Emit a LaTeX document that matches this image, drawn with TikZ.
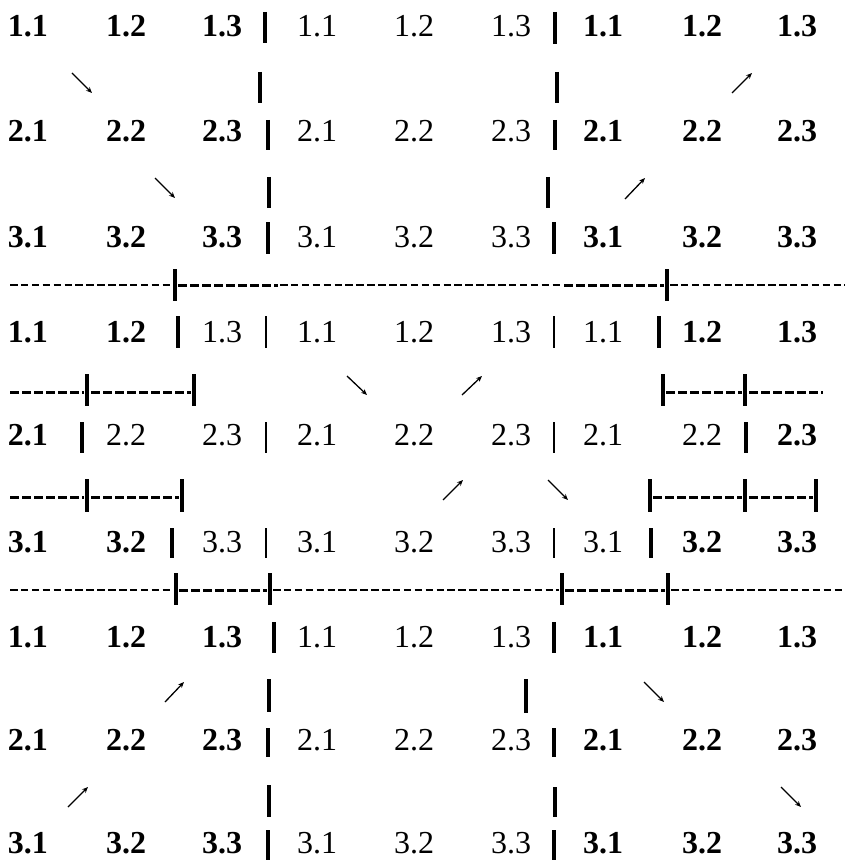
\documentclass[tikz,border=0pt]{standalone}
\usepackage{fontspec}
\setmainfont{Liberation Serif}
\usetikzlibrary{arrows.meta}
\begin{document}
\begin{tikzpicture}[x=1pt,y=-1pt,
  num/.style={anchor=base,inner sep=0pt,font=\fontsize{32}{32}\selectfont},
  bnum/.style={anchor=base,inner sep=0pt,font=\fontsize{32}{32}\selectfont\bfseries},
  bbar/.style={line width=4pt},
  rbar/.style={line width=2.4pt},
  thindash/.style={line width=1.2pt,dash pattern=on 7.5pt off 3.4pt},
  bolddash/.style={line width=3pt,dash pattern=on 9pt off 3pt},
  arr/.style={line width=1.3pt,-{Stealth[length=6pt,width=5pt]}}]
\useasboundingbox (0,0) rectangle (845,861);
% ---- A and C blocks
\foreach \y/\r in {37/1,142/2,247/3,647/1,750/2,853/3}{
  \foreach \x/\c in {28/1,126/2,222/3,603/1,702/2,797/3}
    \node[bnum] (n-\y-\x) at (\x,\y) {\r.\c};
  \foreach \x/\c in {317/1,414/2,511/3}
    \node[num] (n-\y-\x) at (\x,\y) {\r.\c};
}
% ---- B block
\foreach \y/\r in {342/1,552/3}{
  \foreach \x/\c in {28/1,126/2,702/2,797/3}
    \node[bnum] (n-\y-\x) at (\x,\y) {\r.\c};
  \foreach \x/\c in {222/3,317/1,414/2,511/3,603/1}
    \node[num] (n-\y-\x) at (\x,\y) {\r.\c};
}
\foreach \x/\c in {28/1,797/3}
  \node[bnum] (n-445-\x) at (\x,445) {2.\c};
\foreach \x/\c in {126/2,222/3,317/1,414/2,511/3,603/1,702/2}
  \node[num] (n-445-\x) at (\x,445) {2.\c};
% ---- bold bars
\foreach \x/\a/\b in {265/12/43,260/72/103,268/120/150,269/177/208,268/222/254,
  555/12/44,557/72/103,555/120/150,548/177/208,554/222/254,
  175/269/301,667/269/301,
  178/316/348,659/316/348,
  87/374/406,194/374/406,663/374/406,745/374/406,
  82/422/453,746/422/453,
  87/479/512,182/479/512,650/479/512,745/479/512,816/479/512,
  172/528/558,651/528/558,
  176/573/605,270/573/605,562/573/605,668/573/605,
  274/622/653,269/679/712,268/728/757,269/785/817,268/830/860,
  554/622/653,526/679/713,554/728/757,555/787/817,554/830/860}
  \draw[bbar] (\x,\a) -- (\x,\b);
% ---- regular bars
\foreach \x/\a/\b in {266/316/348,554/316/348,266/422/453,554/422/453,266/528/558,554/528/558}
  \draw[rbar] (\x,\a) -- (\x,\b);
% ---- dashed rules
\draw[thindash] (10,285) -- (173,285);
\draw[bolddash] (178,285) -- (278,285);
\draw[thindash] (280,285) -- (562,285);
\draw[bolddash] (564,285) -- (664,285);
\draw[thindash] (670,285) -- (845,285);
\draw[bolddash] (10,392) -- (84,392);
\draw[bolddash] (91,392) -- (191,392);
\draw[bolddash] (666,392) -- (742,392);
\draw[bolddash] (749,392) -- (823,392);
\draw[bolddash] (10,497) -- (84,497);
\draw[bolddash] (91,497) -- (179,497);
\draw[bolddash] (653,497) -- (742,497);
\draw[bolddash] (749,497) -- (813,497);
\draw[thindash] (10,590) -- (173,590);
\draw[bolddash] (179,590) -- (267,590);
\draw[thindash] (273,590) -- (559,590);
\draw[bolddash] (565,590) -- (665,590);
\draw[thindash] (671,590) -- (845,590);
% ---- arrows
\draw[arr] (72,73) -- (92,93);
\draw[arr] (732,93) -- (752,73);
\draw[arr] (155,178) -- (175,198);
\draw[arr] (625,199) -- (645,178);
\draw[arr] (347,376) -- (367,395);
\draw[arr] (462,395) -- (482,376);
\draw[arr] (443,500) -- (463,480);
\draw[arr] (548,480) -- (568,500);
\draw[arr] (165,702) -- (184,682);
\draw[arr] (644,682) -- (664,702);
\draw[arr] (68,807) -- (88,787);
\draw[arr] (781,787) -- (801,807);
\end{tikzpicture}
\end{document}
